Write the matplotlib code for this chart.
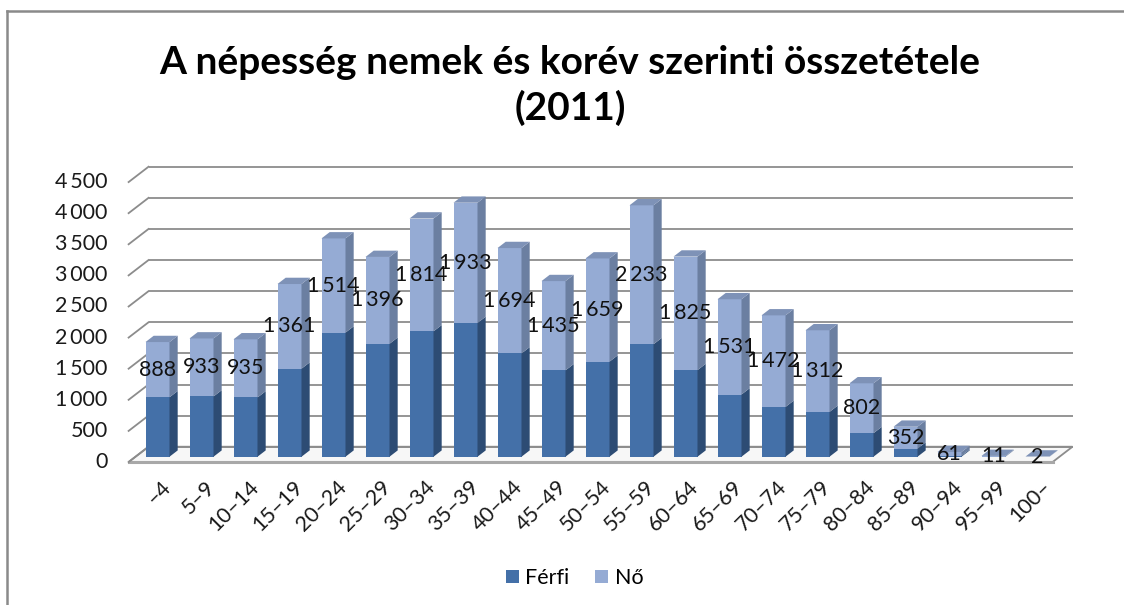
import matplotlib
matplotlib.use("Agg")
import matplotlib.pyplot as plt
from matplotlib.patches import Polygon, Patch
from matplotlib.lines import Line2D

# ---------------- data ----------------
categories = ["–4", "5–9", "10–14", "15–19", "20–24", "25–29", "30–34", "35–39",
              "40–44", "45–49", "50–54", "55–59", "60–64", "65–69", "70–74",
              "75–79", "80–84", "85–89", "90–94", "95–99", "100–"]
ferfi = [955, 968, 952, 1415, 1995, 1815, 2015, 2150, 1660, 1388, 1528, 1808,
         1392, 1000, 800, 720, 378, 130, 15, 2, 1]
no = [888, 933, 935, 1361, 1514, 1396, 1814, 1933, 1694, 1435, 1659, 2233,
      1825, 1531, 1472, 1312, 802, 352, 61, 11, 2]
yticks = [0, 500, 1000, 1500, 2000, 2500, 3000, 3500, 4000, 4500]
title_lines = ["A népesség nemek és korév szerinti összetétele", "(2011)"]
series_names = ["Férfi", "Nő"]

# ---------------- style ----------------
plt.rcParams['font.family'] = ['Lato', 'DejaVu Sans']
c_m_front, c_m_side = "#4470A8", "#2D4C74"
c_f_front, c_f_side, c_f_top = "#95ABD4", "#6B7FA1", "#7E92B7"
grid_c = "#8c8c8c"
FS = 15.5
SEP = "\u2009"


def fmt(v):
    return f"{v:,}".replace(",", SEP)


W, H, DPI = 1124, 605, 100
fig = plt.figure(figsize=(W / DPI, H / DPI), dpi=DPI)

xlim = (-1, 21.5)
ylim = (-400, 4800)
L, R, T, B = 113.5, 1103.5, 158.1, 481.6   # axes box in pixels
ax = fig.add_axes([L / W, 1 - B / H, (R - L) / W, (B - T) / H])
ax.set_xlim(xlim)
ax.set_ylim(ylim)
ax.axis('off')
pxx = (R - L) / (xlim[1] - xlim[0])
pxy = (B - T) / (ylim[1] - ylim[0])


def off(z):
    """depth offset (pixels up) -> data offset"""
    return 1.3 * z / pxx, z / pxy


n = len(categories)
x0, x1 = -0.5, n - 0.5
fx, fy = off(-5.3)   # floor front
wx, wy = off(10)     # back wall
bx, by = off(6.3)    # bar depth

# floor
floor = Polygon([(x0 + fx, fy), (x1 + fx, fy), (x1 + wx, wy), (x0 + wx, wy)],
                closed=True, facecolor="#f7f7f7", edgecolor=grid_c, lw=1.3, zorder=1)
ax.add_patch(floor)
ax.plot([x0 + fx, x1 + fx], [fy, fy], color="#a8a8a8", lw=2.2, zorder=1)

# gridlines (back wall + side wall)
for v in yticks:
    ax.plot([x0 + wx, x1 + wx], [v + wy, v + wy], color=grid_c, lw=1.3,
            zorder=1, solid_capstyle='butt')
    ax.plot([x0 + fx, x0 + wx], [v + fy, v + wy], color=grid_c, lw=1.3, zorder=1)
    ax.text(x0 + fx - 21 / pxx, v + fy, fmt(v),
            ha='right', va='center', fontsize=FS, color="#1a1a1a")

# bars
w = 24 / pxx
for i in range(n):
    m, f = ferfi[i], no[i]
    t = m + f
    ax.bar(i, m, w, color=c_m_front, lw=0, zorder=3)
    ax.bar(i, f, w, bottom=m, color=c_f_front, lw=0, zorder=3)
    xr = i + w / 2
    xl = i - w / 2
    ax.add_patch(Polygon([(xr, 0), (xr, m), (xr + bx, m + by), (xr + bx, by)],
                         closed=True, facecolor=c_m_side, lw=0, zorder=3))
    ax.add_patch(Polygon([(xr, m), (xr, t), (xr + bx, t + by), (xr + bx, m + by)],
                         closed=True, facecolor=c_f_side, lw=0, zorder=3))
    ax.add_patch(Polygon([(xl, t), (xr, t), (xr + bx, t + by), (xl + bx, t + by)],
                         closed=True, facecolor=c_f_top, lw=0, zorder=3))
    ax.text(i, m + f / 2, fmt(f), ha='center', va='center',
            fontsize=FS, color="#111111", zorder=6)
    ax.text(i + 3 / pxx, -(477 - 456.7) / pxy, categories[i], rotation=45,
            rotation_mode='anchor', ha='right', va='top', fontsize=FS,
            color="#1a1a1a")

# title
fig.text(570 / W, 1 - 63 / H, title_lines[0], ha='center', va='center',
         fontsize=28, fontweight='bold', color="#000000")
fig.text(570 / W, 1 - 108 / H, title_lines[1], ha='center', va='center',
         fontsize=28, fontweight='bold', color="#000000")

# legend
handles = [Patch(facecolor=c_m_front, label=series_names[0]),
           Patch(facecolor=c_f_front, label=series_names[1])]
fig.legend(handles=handles, loc='center', bbox_to_anchor=(574.5 / W, 1 - 578 / H),
           ncol=2, frameon=False, fontsize=FS, handlelength=0.6, handleheight=0.6,
           handletextpad=0.3, columnspacing=1.2)

# outer frame
fig.add_artist(Line2D([7 / W, 1], [1 - 11 / H, 1 - 11 / H], color="#8a8a8a", lw=1.8))
fig.add_artist(Line2D([7 / W, 7 / W], [0, 1 - 11 / H], color="#8a8a8a", lw=1.8))

fig.savefig("out.png", dpi=DPI)
